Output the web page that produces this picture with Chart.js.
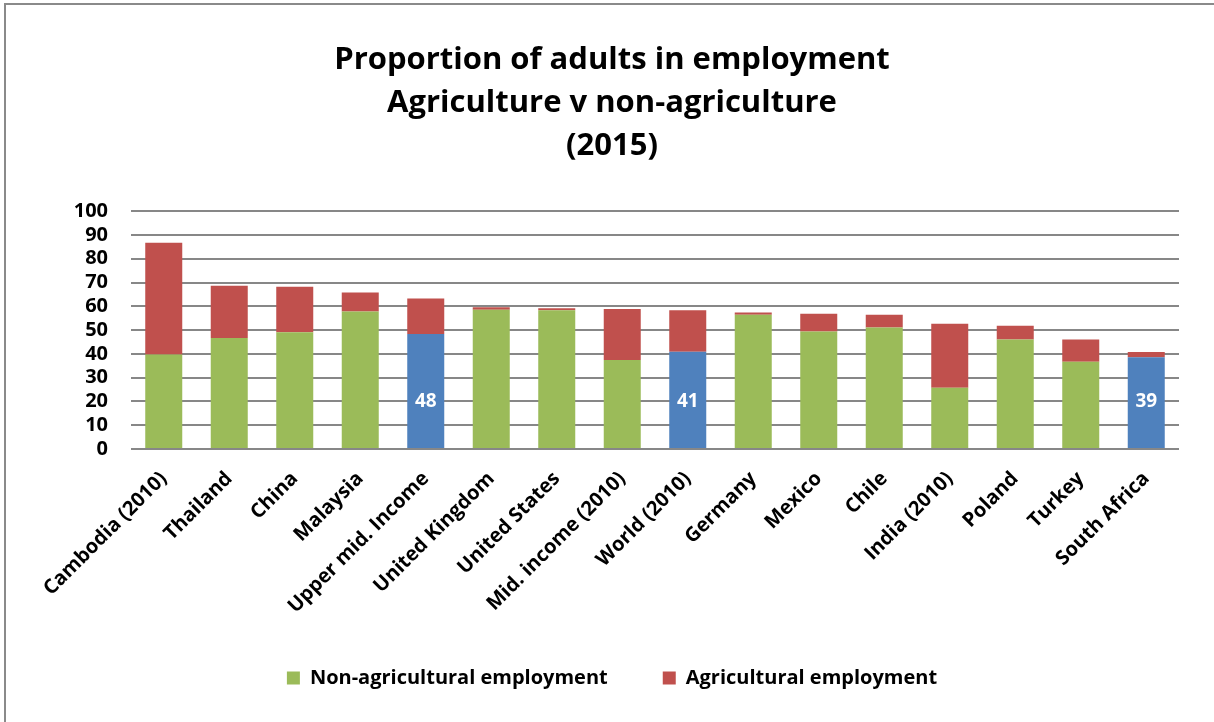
<!DOCTYPE html>
<html>
<head>
<meta charset="utf-8">
<script src="https://cdn.jsdelivr.net/npm/chart.js@4/dist/chart.umd.min.js"></script>
<style>
  html, body { margin: 0; padding: 0; background: #fff; }
  #frame { position: absolute; left: 4px; top: 3px; width: 1300px; height: 800px;
           border-left: 2px solid #8a8a8a; border-top: 2px solid #8a8a8a; }
  #wrap { position: absolute; left: 0; top: 0; width: 1214px; height: 722px; }
</style>
</head>
<body>
<div id="frame"></div>
<div id="wrap"><canvas id="c" width="1214" height="722"></canvas></div>
<script>
const categories = ['Cambodia (2010)', 'Thailand', 'China', 'Malaysia', 'Upper mid. Income',
  'United Kingdom', 'United States', 'Mid. income (2010)', 'World (2010)', 'Germany',
  'Mexico', 'Chile', 'India (2010)', 'Poland', 'Turkey', 'South Africa'];
const nonAgricultural = [39.7, 46.7, 49.1, 57.8, 48.4, 58.6, 58.3, 37.4, 40.9, 56.5, 49.4, 51.1, 25.8, 46.0, 36.7, 38.6];
const agricultural = [47.0, 22.0, 19.1, 8.0, 14.9, 1.0, 0.9, 21.5, 17.4, 0.9, 7.5, 5.4, 26.9, 5.8, 9.3, 2.2];
const highlighted = ['Upper mid. Income', 'World (2010)', 'South Africa'];
const yTicks = [0, 10, 20, 30, 40, 50, 60, 70, 80, 90, 100];
const titleLines = ['Proportion of adults in employment', 'Agriculture v non-agriculture', '(2015)'];

const GREEN = '#9BBB59', RED = '#C0504D', BLUE = '#4F81BD';
const FONT = '"Open Sans", Lato, sans-serif';

const labelPlugin = {
  id: 'blueLabels',
  afterDatasetsDraw(chart) {
    const meta = chart.getDatasetMeta(0);
    const y = chart.scales.y;
    const ctx = chart.ctx;
    ctx.save();
    ctx.fillStyle = '#ffffff';
    ctx.font = 'bold 19px ' + FONT;
    ctx.textAlign = 'center';
    ctx.textBaseline = 'middle';
    categories.forEach((cat, i) => {
      if (!highlighted.includes(cat)) return;
      const bar = meta.data[i];
      ctx.fillText(String(Math.round(nonAgricultural[i])), bar.x, y.getPixelForValue(20));
    });
    ctx.restore();
  }
};

new Chart(document.getElementById('c'), {
  type: 'bar',
  data: {
    labels: categories,
    datasets: [
      { label: 'Non-agricultural employment', data: nonAgricultural,
        backgroundColor: categories.map(c => highlighted.includes(c) ? BLUE : GREEN) },
      { label: 'Agricultural employment', data: agricultural, backgroundColor: RED }
    ]
  },
  options: {
    responsive: false,
    animation: false,
    layout: { padding: { left: 10, right: 0, top: 0, bottom: 24 } },
    datasets: { bar: { barPercentage: 0.565, categoryPercentage: 1.0 } },
    plugins: {
      title: {
        display: true, text: titleLines, color: '#000',
        font: { family: FONT, size: 31, weight: 'bold', lineHeight: 1.4 },
        padding: { top: 38, bottom: 43 }
      },
      legend: {
        position: 'bottom',
        labels: {
          color: '#000', boxWidth: 13, boxHeight: 13, padding: 55,
          font: { family: FONT, size: 20, weight: 'bold' },
          generateLabels(chart) {
            return chart.data.datasets.map((d, i) => ({
              text: d.label, fillStyle: i === 0 ? GREEN : RED, strokeStyle: 'rgba(0,0,0,0)',
              lineWidth: 0, datasetIndex: i, hidden: false
            }));
          }
        }
      },
      tooltip: { enabled: false }
    },
    scales: {
      x: {
        stacked: true,
        grid: { display: false, drawTicks: false },
        border: { display: false },
        ticks: { autoSkip: false, minRotation: 45, maxRotation: 45, color: '#000', padding: 18,
                 font: { family: FONT, size: 20, weight: 'bold' } },
        afterFit(scale) { scale.height = 164; }
      },
      y: {
        stacked: true, min: 0, max: 100,
        afterBuildTicks(scale) { scale.ticks = yTicks.map(v => ({ value: v })); },
        grid: { color: '#878787', lineWidth: 2, drawTicks: false },
        border: { display: false },
        ticks: { autoSkip: false, color: '#000', padding: 23, font: { family: FONT, size: 20, weight: 'bold' } },
        afterFit(scale) { scale.width = 121; }
      },
      yRight: {
        position: 'right', display: true,
        grid: { display: false, drawTicks: false },
        border: { display: false },
        ticks: { display: false },
        afterFit(scale) { scale.width = 35; }
      }
    }
  },
  plugins: [labelPlugin]
});
</script>
</body>
</html>
